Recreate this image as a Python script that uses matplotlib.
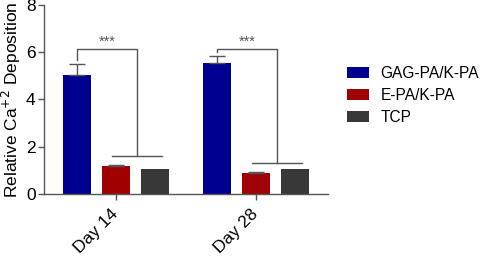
import numpy as np
import matplotlib.pyplot as plt

plt.rcParams['font.family'] = ['Liberation Sans', 'DejaVu Sans']

days = ['Day 14', 'Day 28']
groups = ['GAG-PA/K-PA', 'E-PA/K-PA', 'TCP']
colors = ['#000090', '#a00000', '#383838']
means = {
    'GAG-PA/K-PA': [5.02, 5.55],
    'E-PA/K-PA': [1.17, 0.87],
    'TCP': [1.05, 1.05],
}
errs = {
    'GAG-PA/K-PA': [0.50, 0.30],
    'E-PA/K-PA': [0.04, 0.04],
    'TCP': [0.0, 0.0],
}
# significance brackets
sig_top = [6.15, 6.15]
sig_low = [1.6, 1.3]

fig = plt.figure(figsize=(4.89, 2.61), dpi=100)
ax = fig.add_axes([0.09, 0.257, 0.581, 0.724])

x = np.arange(len(days))
step = 0.279
width = 0.2
line_c = '#555555'

for i, g in enumerate(groups):
    pos = x + (i - 1) * step
    err = np.array(errs[g])
    ax.bar(pos, means[g], width, color=colors[i], label=g, zorder=2)
    if err.max() > 0:
        ax.errorbar(pos, means[g], yerr=[np.zeros_like(err), err], fmt='none',
                    ecolor=line_c, elinewidth=1, capsize=6, capthick=1, zorder=3)

for k in range(len(days)):
    xb = x[k] - step
    xr = x[k] + 0.15
    ax.plot([xb, xb, xr, xr], [means['GAG-PA/K-PA'][k] + errs['GAG-PA/K-PA'][k] + 0.15,
                               sig_top[k], sig_top[k], sig_low[k]],
            color=line_c, lw=1, zorder=1)
    ax.plot([x[k] - 0.03, x[k] + 0.33], [sig_low[k], sig_low[k]], color=line_c, lw=1, zorder=1)
    ax.text((xb + xr) / 2, sig_top[k] + 0.0, '***', ha='center', va='bottom',
            fontsize=10.5, color=line_c)

ax.set_xlim(-0.514, 1.514)
ax.set_ylim(0, 8)
ax.set_yticks([0, 2, 4, 6, 8])
ax.set_xticks(x)
ax.set_xticklabels(days, rotation=45, ha='right', va='center', rotation_mode='anchor',
                   fontsize=12.5)
ax.tick_params(axis='y', labelsize=12.5, length=4, color=line_c, width=1, pad=2)
ax.tick_params(axis='x', length=4, color=line_c, width=1, pad=9)
ax.set_ylabel('Relative Ca$^{+2}$ Deposition', fontsize=12.5, labelpad=2)
for s in ['top', 'right']:
    ax.spines[s].set_visible(False)
for s in ['left', 'bottom']:
    ax.spines[s].set_color(line_c)
    ax.spines[s].set_linewidth(1)

fig.legend(loc='center left', bbox_to_anchor=(0.68, 0.635), frameon=False,
           fontsize=11.2, handlelength=1.45, handleheight=0.7, labelspacing=0.45,
           handletextpad=0.75)

fig.savefig('out.png', dpi=100)
